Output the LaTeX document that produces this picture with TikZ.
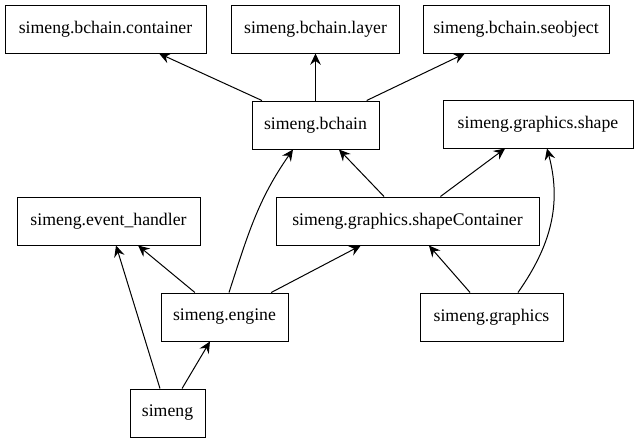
\documentclass[tikz,border=0pt]{standalone}
\usepackage{fontspec}
\setmainfont{Liberation Serif}
\usepackage{tikz}
\usetikzlibrary{arrows.meta,calc}

\begin{document}
\begin{tikzpicture}[x=0.75pt,y=-0.75pt,font=\fontsize{13.3}{16}\selectfont,
   mod/.style={draw,line width=0.75pt,minimum height=36pt,inner sep=0pt,align=center},
   dep/.style={line width=0.75pt,-{Stealth[length=8.5pt,width=8pt,inset=3pt]}}]
  \useasboundingbox (0,0) rectangle (639,443);
  \node[mod,minimum width=150.75pt] (container) at (105.5,29) {simeng.bchain.container};
  \node[mod,minimum width=126pt] (layer) at (315.5,29) {simeng.bchain.layer};
  \node[mod,minimum width=139.5pt] (seobject) at (516,29) {simeng.bchain.seobject};
  \node[mod,minimum width=95.25pt] (bchain) at (315.5,125) {simeng.bchain};
  \node[mod,minimum width=142.5pt] (gshape) at (538,124) {simeng.graphics.shape};
  \node[mod,minimum width=137.25pt] (handler) at (108.5,221) {simeng.event\_handler};
  \node[mod,minimum width=197.25pt] (shapecont) at (407.5,221) {simeng.graphics.shapeContainer};
  \node[mod,minimum width=95.25pt] (engine) at (224.5,317) {simeng.engine};
  \node[mod,minimum width=107.25pt] (graphics) at (491.5,317) {simeng.graphics};
  \node[mod,minimum width=56.25pt] (simeng) at (167.5,413) {simeng};
  \draw[dep] (bchain) -- (container);
  \draw[dep] (bchain) -- (layer);
  \draw[dep] (bchain) -- (seobject);
  \draw[dep] (shapecont) -- (bchain);
  \draw[dep] (shapecont) -- (gshape);
  \draw[dep] (engine) -- (handler);
  \draw[dep] ($(engine.north)+(4.5,0)$) to[out=72,in=-125] ($(bchain.south)+(-22.5,0)$);
  \draw[dep] (engine) -- (shapecont);
  \draw[dep] (simeng) -- (handler);
  \draw[dep] (simeng) -- (engine);
  \draw[dep] (graphics) -- (shapecont);
  \draw[dep] ($(graphics.north)+(26.5,0)$) to[out=55,in=-75] ($(gshape.south)+(9,0)$);
\end{tikzpicture}
\end{document}
